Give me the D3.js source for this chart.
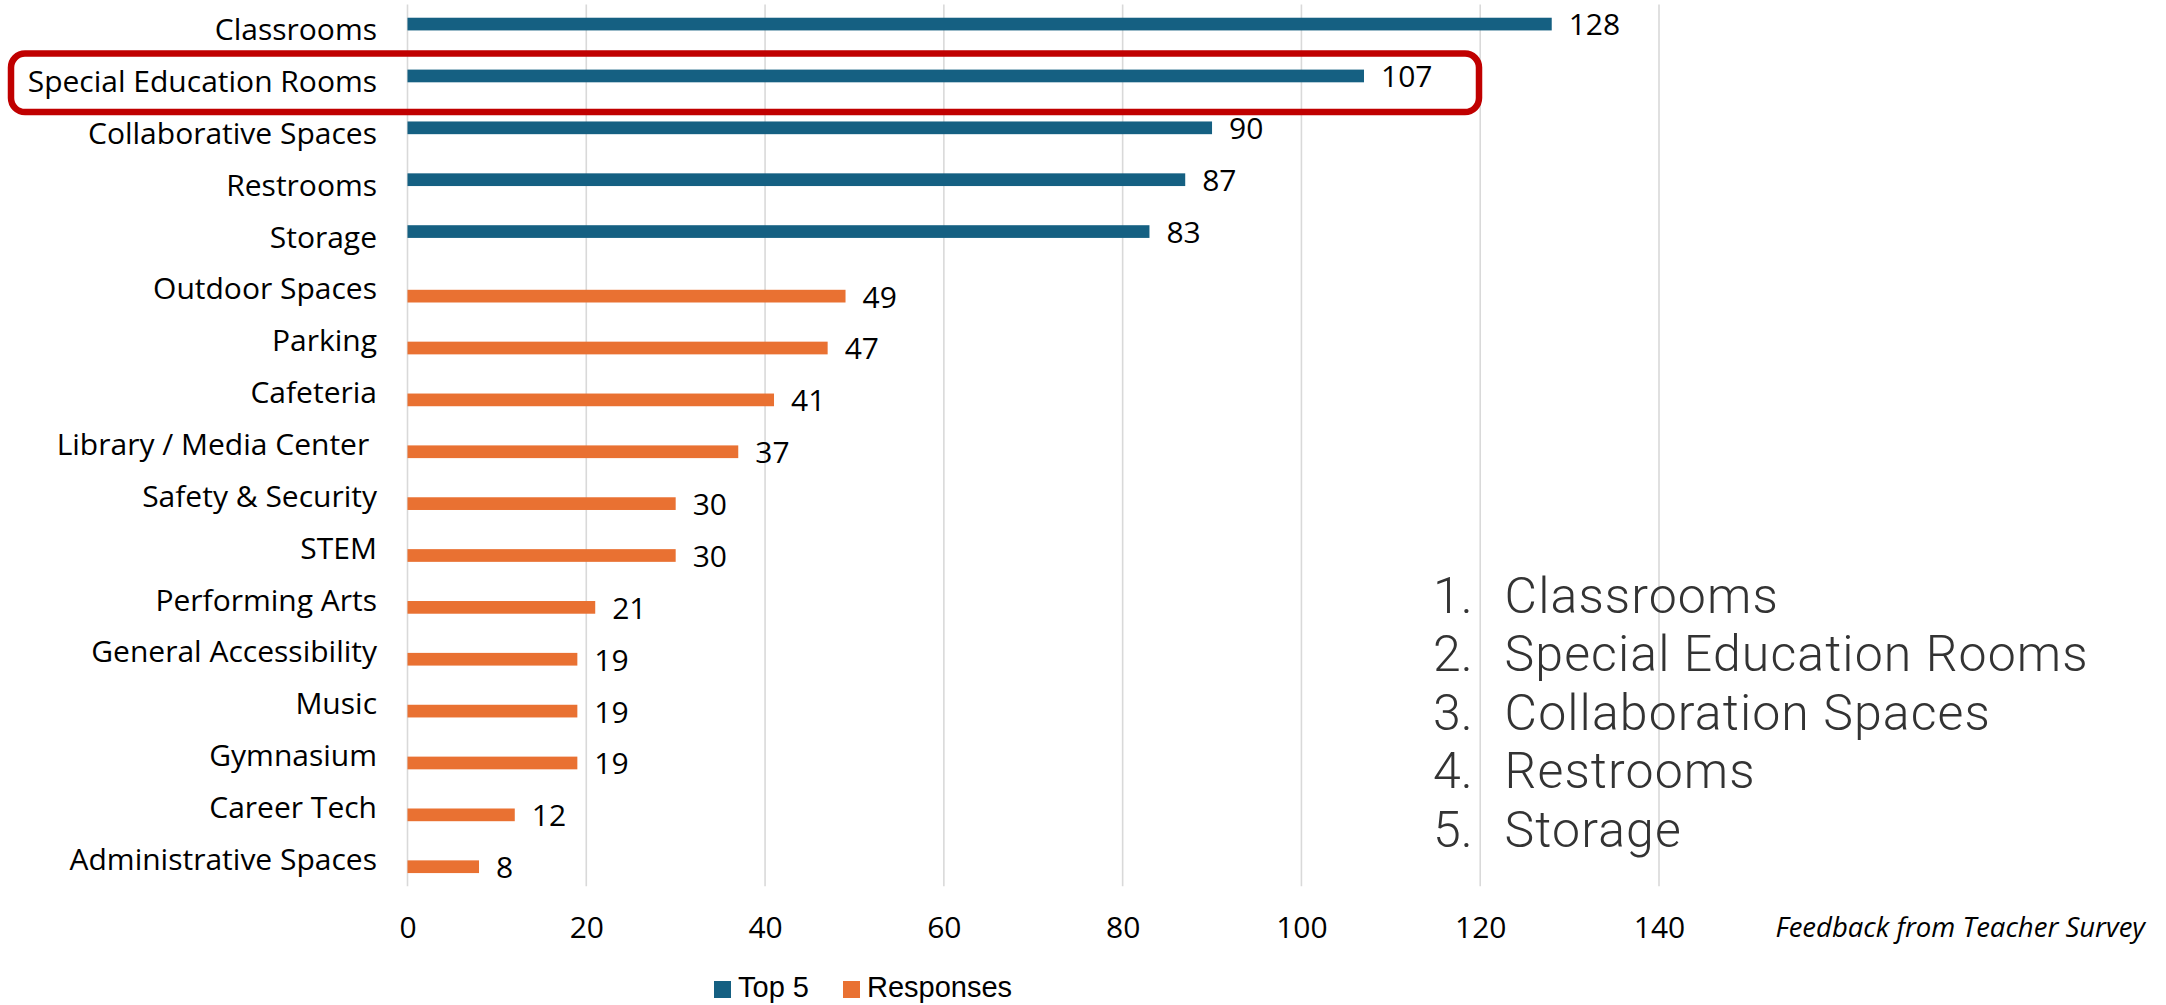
<!DOCTYPE html>
<html>
<head>
<meta charset="utf-8">
<script src="https://cdn.jsdelivr.net/npm/d3@7"></script>
<style>
  html, body { margin: 0; padding: 0; background: #ffffff; }
  svg { display: block; }
  text { font-family: "Open Sans", "Liberation Sans", sans-serif; }
</style>
</head>
<body>
<svg id="chart" width="2166" height="1005"></svg>
<script>
// Facility areas named in the teacher survey, in display order
const categories = [
  "Classrooms", "Special Education Rooms", "Collaborative Spaces", "Restrooms", "Storage",
  "Outdoor Spaces", "Parking", "Cafeteria", "Library / Media Center ", "Safety & Security",
  "STEM", "Performing Arts", "General Accessibility", "Music", "Gymnasium",
  "Career Tech", "Administrative Spaces"
];
// Series: the five most-cited areas, and all remaining responses
const top5 = [128, 107, 90, 87, 83, null, null, null, null, null, null, null, null, null, null, null, null];
const responses = [null, null, null, null, null, 49, 47, 41, 37, 30, 30, 21, 19, 19, 19, 12, 8];
const seriesNames = ["Top 5", "Responses"];
const seriesColors = ["#156082", "#E97132"];
const xTicks = [0, 20, 40, 60, 80, 100, 120, 140];
const ranking = ["Classrooms", "Special Education Rooms", "Collaboration Spaces", "Restrooms", "Storage"];
const highlighted = "Special Education Rooms";
const sourceNote = "Feedback from Teacher Survey";

const svg = d3.select("#chart");

const x = d3.scaleLinear().domain([0, 140]).range([407.5, 1659]);
const y = d3.scaleBand().domain(categories).range([4.5, 886.3])
  .paddingInner(0.51).paddingOuter(0.255);
const ySeries = d3.scaleBand().domain(seriesNames).range([0, y.bandwidth()]);

// Vertical gridlines
svg.append("g").selectAll("line").data(xTicks).join("line")
  .attr("x1", d => x(d)).attr("x2", d => x(d))
  .attr("y1", y.range()[0]).attr("y2", y.range()[1])
  .attr("stroke", "#d9d9d9").attr("stroke-width", 1.6);

// X axis tick labels
const xAxis = d3.axisBottom(x).tickValues(xTicks).tickSize(0).tickPadding(0);
const gx = svg.append("g").attr("transform", "translate(0,927)").call(xAxis);
gx.select(".domain").remove();
gx.selectAll("text").attr("font-size", 30).attr("fill", "#000").attr("dy", "0.36em")
  .style("font-family", "'Open Sans', sans-serif");

// Category labels
const yAxis = d3.axisLeft(y).tickSize(0).tickPadding(0);
const gy = svg.append("g").attr("transform", "translate(377,0)").call(yAxis);
gy.select(".domain").remove();
gy.selectAll("text").attr("font-size", 30).attr("fill", "#000")
  .style("font-family", "'Open Sans', sans-serif").style("white-space", "pre");

// Bars with value labels
const seriesData = [top5, responses];
seriesData.forEach((vals, si) => {
  const rows = categories.map((c, i) => ({ c, v: vals[i] })).filter(d => d.v != null);
  const g = svg.append("g");
  g.selectAll("rect").data(rows).join("rect")
    .attr("x", x(0))
    .attr("y", d => y(d.c) + ySeries(seriesNames[si]))
    .attr("width", d => x(d.v) - x(0))
    .attr("height", ySeries.bandwidth())
    .attr("fill", seriesColors[si]);
  g.selectAll("text").data(rows).join("text")
    .attr("x", d => x(d.v) + 17)
    .attr("y", d => y(d.c) + ySeries(seriesNames[si]) + ySeries.bandwidth() / 2)
    .attr("dy", "0.38em")
    .attr("font-size", 30).attr("fill", "#000")
    .text(d => d.v);
});

// Highlight frame around one category row
const hy = y(highlighted) + y.bandwidth() / 2;
svg.append("rect")
  .attr("x", 11).attr("y", hy - 28.8)
  .attr("width", 1468).attr("height", 58.6)
  .attr("rx", 14).attr("ry", 14)
  .attr("fill", "none").attr("stroke", "#C00000").attr("stroke-width", 6.5);

// Ranked list of top areas
const list = svg.append("g");
ranking.forEach((name, i) => {
  const by = 612.7 + i * 58.5;
  list.append("text").attr("x", 1433).attr("y", by)
    .attr("font-size", 50).attr("font-weight", 300).attr("fill", "#333")
    .style("font-family", "Roboto, 'Liberation Sans', sans-serif")
    .text((i + 1) + ".");
  list.append("text").attr("x", 1504.6).attr("y", by)
    .attr("font-size", 50).attr("font-weight", 300).attr("fill", "#333")
    .attr("letter-spacing", 1.1)
    .style("font-family", "Roboto, 'Liberation Sans', sans-serif")
    .text(name);
});

// Source note
svg.append("text").attr("x", 2145).attr("y", 927).attr("dy", "0.36em")
  .attr("text-anchor", "end").attr("font-size", 27.5).attr("font-style", "italic")
  .attr("fill", "#000").text(sourceNote);

// Legend
const legend = svg.append("g");
const legendX = [714, 843];
seriesNames.forEach((name, i) => {
  legend.append("rect").attr("x", legendX[i]).attr("y", 981)
    .attr("width", 17).attr("height", 17).attr("fill", seriesColors[i]);
  legend.append("text").attr("x", legendX[i] + 24).attr("y", 997)
    .attr("font-size", 29).attr("fill", "#000")
    .style("font-family", "'Liberation Sans', Arial, sans-serif").text(name);
});
</script>
</body>
</html>
